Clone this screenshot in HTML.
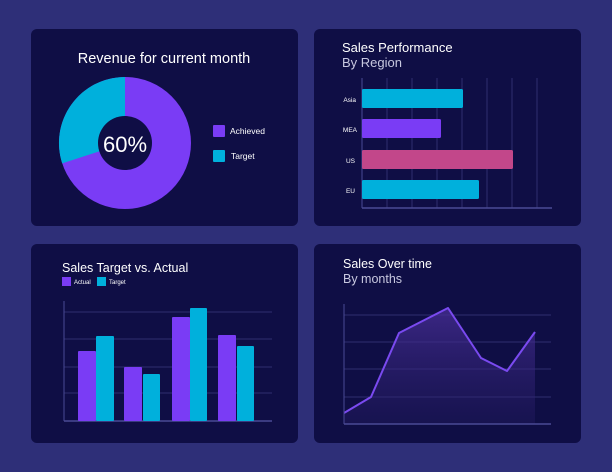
<!DOCTYPE html>
<html><head><meta charset="utf-8"><style>
html,body{margin:0;padding:0;background:#2e2f78;}
svg{display:block;font-family:"Liberation Sans",sans-serif;}
</style></head><body>
<svg width="612" height="472" viewBox="0 0 612 472" xmlns="http://www.w3.org/2000/svg">
<defs>
<linearGradient id="ag" x1="0" y1="0" x2="0" y2="1">
<stop offset="0" stop-color="#4a2f9a" stop-opacity="0.75"/>
<stop offset="1" stop-color="#2a1f6a" stop-opacity="0.3"/>
</linearGradient>
</defs>
<rect width="612" height="472" fill="#2e2f78"/>
<rect x="31" y="29" width="267" height="197" rx="6" fill="#0f0e45"/>
<rect x="314" y="29" width="267" height="197" rx="6" fill="#0f0e45"/>
<rect x="31" y="244" width="267" height="199" rx="6" fill="#0f0e45"/>
<rect x="314" y="244" width="267" height="199" rx="6" fill="#0f0e45"/>

<!-- Donut -->
<text x="164" y="63" fill="#fff" font-size="14.5" text-anchor="middle">Revenue for current month</text>
<circle cx="125" cy="143" r="66" fill="#7a3cf5"/>
<path d="M125,143 L125,77 A66,66 0 0 0 62.2,163.4 Z" fill="#00b0dc"/>
<circle cx="125" cy="143" r="27" fill="#0f0e45"/>
<text x="125" y="152" fill="#fff" font-size="22" text-anchor="middle">60%</text>
<rect x="213" y="125" width="12" height="12" rx="1" fill="#7a3cf5"/>
<text x="230" y="134" fill="#fff" font-size="8.5">Achieved</text>
<rect x="213" y="150" width="12" height="12" rx="1" fill="#00b0dc"/>
<text x="231" y="159" fill="#fff" font-size="8.5">Target</text>

<!-- Sales Performance -->
<text x="342" y="52" fill="#fff" font-size="13">Sales Performance</text>
<text x="342" y="67" fill="#c8c8e0" font-size="13">By Region</text>
<g stroke="#2f2e6e" stroke-width="1">
<line x1="387" y1="78" x2="387" y2="208"/><line x1="412" y1="78" x2="412" y2="208"/>
<line x1="437" y1="78" x2="437" y2="208"/><line x1="462" y1="78" x2="462" y2="208"/>
<line x1="487" y1="78" x2="487" y2="208"/><line x1="512" y1="78" x2="512" y2="208"/>
<line x1="537" y1="78" x2="537" y2="208"/>
</g>
<line x1="362" y1="78" x2="362" y2="208" stroke="#4a4a95" stroke-width="1"/>
<line x1="362" y1="208" x2="552" y2="208" stroke="#4a4a95" stroke-width="1.5"/>
<rect x="362" y="89" width="101" height="19" rx="1.5" fill="#00b0dc"/>
<rect x="362" y="119" width="79" height="19" rx="1.5" fill="#7a3cf5"/>
<rect x="362" y="150" width="151" height="19" rx="1.5" fill="#c2478a"/>
<rect x="362" y="180" width="117" height="19" rx="1.5" fill="#00b0dc"/>
<g fill="#fff" font-size="6.5" text-anchor="end">
<text x="356" y="102">Asia</text><text x="357" y="132">MEA</text>
<text x="355" y="163">US</text><text x="355" y="193">EU</text>
</g>

<!-- Sales Target vs Actual -->
<text x="62" y="272" fill="#fff" font-size="12.5">Sales Target vs. Actual</text>
<rect x="62" y="277" width="9" height="9" fill="#7a3cf5"/>
<text x="74" y="284" fill="#fff" font-size="6">Actual</text>
<rect x="97" y="277" width="9" height="9" fill="#00b0dc"/>
<text x="109" y="284" fill="#fff" font-size="6">Target</text>
<g stroke="#2f2e6e" stroke-width="1">
<line x1="64" y1="312" x2="272" y2="312"/><line x1="64" y1="339" x2="272" y2="339"/>
<line x1="64" y1="367" x2="272" y2="367"/><line x1="64" y1="393" x2="272" y2="393"/>
</g>
<line x1="64" y1="301" x2="64" y2="421" stroke="#4a4a95"/>
<line x1="64" y1="421" x2="272" y2="421" stroke="#4a4a95" stroke-width="1.5"/>
<g fill="#7a3cf5">
<rect x="78" y="351" width="18" height="70" rx="1"/><rect x="124" y="367" width="18" height="54" rx="1"/>
<rect x="172" y="317" width="18" height="104" rx="1"/><rect x="218" y="335" width="18" height="86" rx="1"/>
</g>
<g fill="#00b0dc">
<rect x="96" y="336" width="18" height="85" rx="1"/><rect x="143" y="374" width="17" height="47" rx="1"/>
<rect x="190" y="308" width="17" height="113" rx="1"/><rect x="237" y="346" width="17" height="75" rx="1"/>
</g>

<!-- Sales Over time -->
<text x="343" y="268" fill="#fff" font-size="12.5">Sales Over time</text>
<text x="343" y="283" fill="#c8c8e0" font-size="12.5">By months</text>
<g stroke="#2f2e6e" stroke-width="1">
<line x1="344" y1="315" x2="551" y2="315"/><line x1="344" y1="342" x2="551" y2="342"/>
<line x1="344" y1="369" x2="551" y2="369"/><line x1="344" y1="397" x2="551" y2="397"/>
</g>
<path d="M344,413 L371,397 L399,333 L448,308 L481,358 L507,371 L535,332 L535,424 L344,424 Z" fill="url(#ag)"/>
<polyline points="344,413 371,397 399,333 448,308 481,358 507,371 535,332" fill="none" stroke="#7a4af0" stroke-width="2" stroke-linejoin="round"/>
<line x1="344" y1="304" x2="344" y2="424" stroke="#4a4a95"/>
<line x1="344" y1="424" x2="551" y2="424" stroke="#4a4a95" stroke-width="1.5"/>
</svg>
</body></html>
